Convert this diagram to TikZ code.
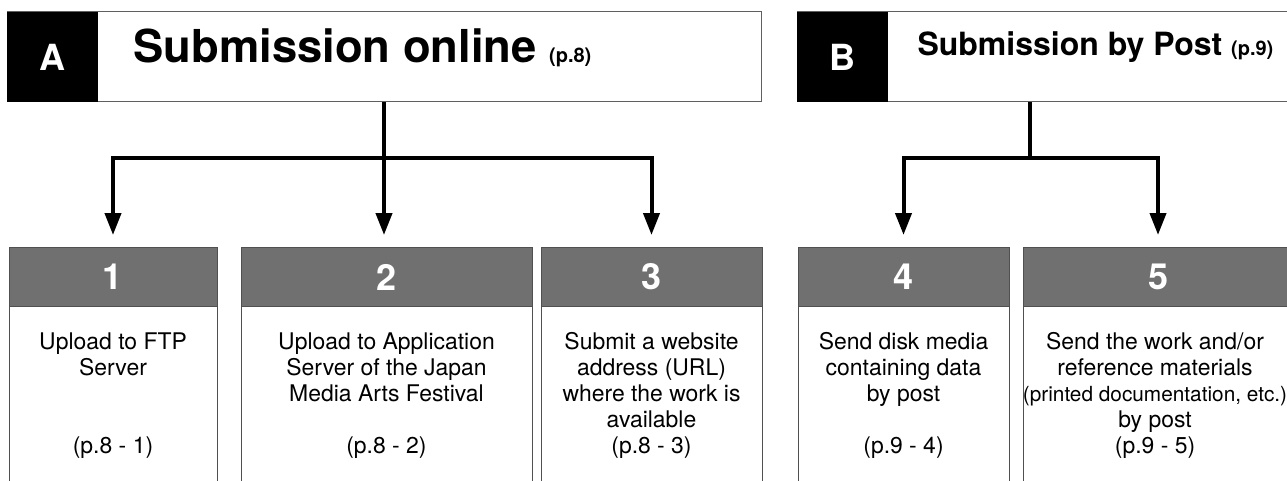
\documentclass[tikz,border=0pt]{standalone}
\usepackage{fontspec}
\setmainfont{TeX Gyre Heros}
\usetikzlibrary{arrows.meta}

\tikzset{every picture/.style={line width=0.75pt}}
\tikzset{
	head box/.style={draw={rgb, 255:red, 96; green, 96; blue, 96 }, fill=white, minimum height=67.5pt, inner sep=0pt},
	letter box/.style={fill=black, text=white, minimum width=68.25pt, minimum height=67.5pt, inner sep=0pt, font=\bfseries\fontsize{27}{27}\selectfont},
	item box/.style={draw={rgb, 255:red, 80; green, 80; blue, 80 }, fill=white, minimum height=182.25pt, inner sep=0pt, anchor=north},
	num band/.style={draw={rgb, 255:red, 80; green, 80; blue, 80 }, fill={rgb, 255:red, 112; green, 112; blue, 112 }, text=white, minimum height=44.25pt, inner sep=0pt, anchor=north, font=\bfseries\fontsize{27}{27}\selectfont},
	item text/.style={align=center, anchor=north, inner sep=0pt, font=\fontsize{17.2}{19.5}\selectfont},
	link/.style={line width=3pt},
	flow/.style={line width=3pt, -{Triangle[length=16.5pt,width=12pt]}, shorten >=9pt}}

\begin{document}
\begin{tikzpicture}[x=0.75pt,y=0.75pt,yscale=-1,xscale=1]
	\clip (0,0) rectangle (1287,481);

	%Shape: Rectangle [id:hA] 
	\node [head box, minimum width=565.5pt] (hA) at (384,57) {};
	\node [letter box] (lA) at (52.5,57) {A};
	% Text Node
	\node [anchor=base west, inner sep=0pt, font=\bfseries\fontsize{34}{34}\selectfont] (tA) at (133,63) {Submission online {\fontsize{15}{15}\selectfont (p.8)}};

	%Shape: Rectangle [id:hB] 
	\node [head box, minimum width=372pt] (hB) at (1045,57) {};
	\node [letter box] (lB) at (842.5,57) {B};
	% Text Node
	\node [anchor=base west, inner sep=0pt, font=\bfseries\fontsize{24}{24}\selectfont] (tB) at (917,56) {Submission by Post {\fontsize{15}{15}\selectfont (p.9)}};

	%Shape: Boxes 1--5
	\node [item box, minimum width=156pt] (b1) at (113,247) {};
	\node [num band, minimum width=156pt] (n1) at (b1.north) {1};
	\node [item box, minimum width=218.25pt] (b2) at (386.5,247) {};
	\node [num band, minimum width=218.25pt] (n2) at (b2.north) {2};
	\node [item box, minimum width=165.75pt] (b3) at (651.5,247) {};
	\node [num band, minimum width=165.75pt] (n3) at (b3.north) {3};
	\node [item box, minimum width=158.25pt] (b4) at (903.5,247) {};
	\node [num band, minimum width=158.25pt] (n4) at (b4.north) {4};
	\node [item box, minimum width=202.5pt] (b5) at (1158,247) {};
	\node [num band, minimum width=202.5pt] (n5) at (b5.north) {5};

	% Text Node
	\node [item text] (t1) at (113,332) {Upload to FTP\\Server\\[39pt](p.8 - 1)};
	% Text Node
	\node [item text] (t2) at (386.5,332) {Upload to Application\\Server of the Japan\\Media Arts Festival\\[19.5pt](p.8 - 2)};
	% Text Node
	\node [item text] (t3) at (651.5,332) {Submit a website\\address (URL)\\where the work is\\available\\(p.8 - 3)};
	% Text Node
	\node [item text] (t4) at (903.5,332) {Send disk media\\containing data\\by post\\[19.5pt](p.9 - 4)};
	% Text Node
	\node [item text] (t5) at (1155,332) {Send the work and/or\\reference materials\\{\fontsize{15.6}{19.5}\selectfont (printed documentation, etc.)}\\by post\\(p.9 - 5)};

	%Straight Lines
	\coordinate (jA) at (384,158);
	\draw [link] (hA.south) -- (jA);
	\draw [flow] (jA) -| (b1.north);
	\draw [flow] (jA) -- (jA |- b2.north);
	\draw [flow] (jA) -| (b3.north);
	%Straight Lines
	\coordinate (jB) at (1030,158);
	\draw [link] (jB |- hB.south) -- (jB);
	\draw [flow] (jB) -| (b4.north);
	\draw [flow] (jB) -| (b5.north);

\end{tikzpicture}
\end{document}
